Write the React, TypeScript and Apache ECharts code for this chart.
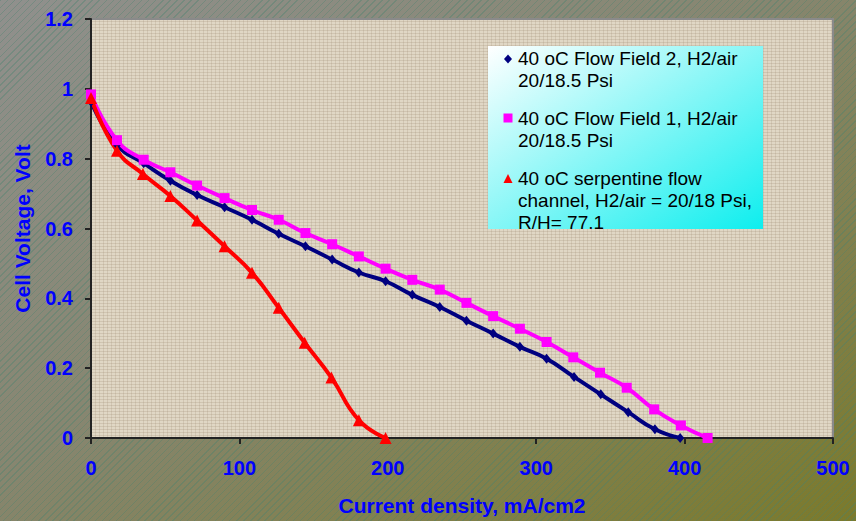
import React, { useEffect, useRef } from "react";
import * as echarts from "echarts";

const seriesNames = [
  "40 oC Flow Field 2, H2/air\n20/18.5 Psi",
  "40 oC Flow Field 1, H2/air\n20/18.5 Psi",
  "40 oC serpentine flow\nchannel, H2/air = 20/18 Psi,\nR/H= 77.1",
];
const seriesColors = ["#000080", "#ff00ff", "#ff0000"];

const field2Current = [0, 17.5, 35.5, 53.5, 71.5, 90, 108.5, 126.5, 144.5, 162.5, 180.5, 198.5, 216.5, 235, 253, 271, 289, 307, 325.5, 343.5, 362, 380, 397];
const field2Voltage = [0.963, 0.84, 0.787, 0.737, 0.696, 0.661, 0.625, 0.585, 0.549, 0.511, 0.474, 0.449, 0.41, 0.375, 0.336, 0.299, 0.261, 0.227, 0.175, 0.125, 0.074, 0.025, 0];

const field1Current = [0, 17.5, 35.5, 53.5, 71.5, 90, 108.5, 126.5, 144.5, 162.5, 180.5, 198.5, 216.5, 235, 253, 271, 289, 307, 325, 343, 361, 379.5, 397.5, 415.5];
const field1Voltage = [0.984, 0.853, 0.797, 0.761, 0.723, 0.687, 0.653, 0.625, 0.587, 0.555, 0.52, 0.485, 0.453, 0.425, 0.387, 0.349, 0.313, 0.275, 0.231, 0.187, 0.144, 0.082, 0.036, 0];

const serpCurrent = [0, 17.5, 35, 53.5, 71.5, 90, 108.5, 126.5, 144, 162, 180.5, 198.5];
const serpVoltage = [0.974, 0.823, 0.756, 0.693, 0.623, 0.549, 0.473, 0.373, 0.273, 0.173, 0.051, 0];

const xAxisName = "Current density, mA/cm2";
const yAxisName = "Cell Voltage, Volt";

const FONT = '"Liberation Sans", Arial, Helvetica, sans-serif';

function pairs(xs: number[], ys: number[]) {
  return xs.map((x, i) => [x, ys[i]]);
}

export default function App() {
  const ref = useRef<HTMLDivElement>(null);

  useEffect(() => {
    if (!ref.current) return;
    const chart = echarts.init(ref.current, null, { renderer: "svg" });

    const axisCommon = {
      type: "value",
      nameLocation: "middle",
      nameTextStyle: { color: "#0000ff", fontWeight: "bold", fontSize: 21, fontFamily: FONT },
      axisLine: { show: true, onZero: false, lineStyle: { color: "#222222", width: 2 } },
      axisTick: { show: true, length: 6, lineStyle: { color: "#222222", width: 2 } },
      axisLabel: { color: "#0000ff", fontWeight: "bold", fontSize: 20, fontFamily: FONT },
      splitLine: { show: false },
    };

    const legendTop = [47, 107, 167];
    const legendGraphics: any[] = [
      {
        type: "rect",
        shape: { x: 488, y: 46, width: 275, height: 183 },
        style: {
          fill: new echarts.graphic.LinearGradient(0, 0, 1, 1, [
            { offset: 0, color: "#ffffff" },
            { offset: 1, color: "#0eeeee" },
          ]),
        },
        z: 10,
      },
      {
        type: "polygon",
        shape: { points: [[508, 54.5], [512, 59], [508, 63.5], [504, 59]] },
        style: { fill: seriesColors[0] },
        z: 11,
      },
      {
        type: "rect",
        shape: { x: 503.5, y: 113.5, width: 9, height: 9 },
        style: { fill: seriesColors[1] },
        z: 11,
      },
      {
        type: "polygon",
        shape: { points: [[508, 174], [512.5, 183], [503.5, 183]] },
        style: { fill: seriesColors[2] },
        z: 11,
      },
    ];
    seriesNames.forEach((n, i) => {
      legendGraphics.push({
        type: "text",
        x: 518,
        y: legendTop[i],
        z: 11,
        style: {
          text: n,
          fill: "#000000",
          font: `19px ${FONT}`,
          lineHeight: 22,
          verticalAlign: "top",
        },
      });
    });

    chart.setOption({
      animation: false,
      backgroundColor: "transparent",
      grid: {
        left: 91,
        right: 23,
        top: 19,
        bottom: 82,
        show: true,
        borderColor: "#8a8a8a",
        borderWidth: 2,
        backgroundColor: "transparent",
      },
      xAxis: {
        ...axisCommon,
        min: 0,
        max: 500,
        interval: 100,
        name: xAxisName,
        nameGap: 57,
        axisLabel: { ...axisCommon.axisLabel, margin: 20 },
      },
      yAxis: {
        ...axisCommon,
        min: 0,
        max: 1.2,
        interval: 0.2,
        name: yAxisName,
        nameGap: 58,
        nameRotate: 90,
        axisLabel: { ...axisCommon.axisLabel, margin: 18 },
      },
      graphic: legendGraphics,
      series: [
        {
          name: seriesNames[0],
          type: "line",
          smooth: 0.5,
          data: pairs(field2Current, field2Voltage),
          symbol: "diamond",
          symbolSize: [8, 10],
          itemStyle: { color: seriesColors[0] },
          lineStyle: { color: seriesColors[0], width: 4 },
        },
        {
          name: seriesNames[1],
          type: "line",
          smooth: 0.5,
          data: pairs(field1Current, field1Voltage),
          symbol: "rect",
          symbolSize: 10,
          itemStyle: { color: seriesColors[1] },
          lineStyle: { color: seriesColors[1], width: 4 },
        },
        {
          name: seriesNames[2],
          type: "line",
          smooth: 0.5,
          data: pairs(serpCurrent, serpVoltage),
          symbol: "triangle",
          symbolSize: 12,
          itemStyle: { color: seriesColors[2] },
          lineStyle: { color: seriesColors[2], width: 4 },
        },
      ],
    });

    return () => chart.dispose();
  }, []);

  const outerBg =
    "repeating-linear-gradient(135deg, rgba(70,130,110,0.35) 0px, rgba(70,130,110,0.35) 1px, transparent 1px, transparent 5px), " +
    "linear-gradient(to bottom right, #90908d 0%, #878670 45%, #7b7a2c 100%)";
  const plotBg =
    "repeating-linear-gradient(0deg, rgba(150,130,105,0.22) 0px, rgba(150,130,105,0.22) 1px, transparent 1px, transparent 3px), " +
    "repeating-linear-gradient(90deg, rgba(150,130,105,0.2) 0px, rgba(150,130,105,0.2) 1px, transparent 1px, transparent 4px), " +
    "#e0d7c5";

  return (
    <div style={{ position: "fixed", left: 0, top: 0, width: 856, height: 521, background: outerBg }}>
      <div style={{ position: "absolute", left: 91, top: 19, width: 742, height: 420, background: plotBg }} />
      <div ref={ref} style={{ position: "absolute", left: 0, top: 0, width: 856, height: 521 }} />
    </div>
  );
}
